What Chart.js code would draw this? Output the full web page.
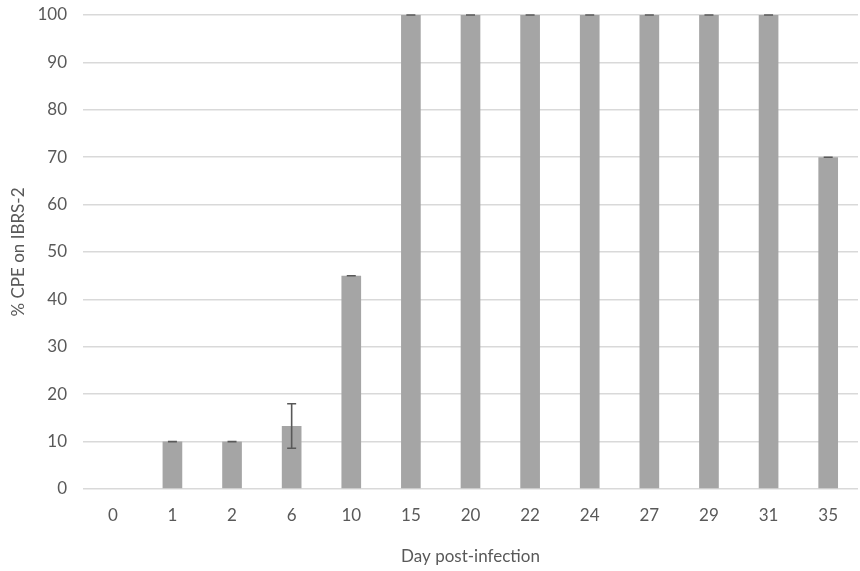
<!DOCTYPE html>
<html><head><meta charset="utf-8">
<script src="https://cdn.jsdelivr.net/npm/chart.js@4/dist/chart.umd.min.js"></script>
<style>html,body{margin:0;padding:0;background:#fff}#wrap{width:860px;height:571px}</style>
</head><body><div id="wrap"><canvas id="c" width="860" height="571"></canvas></div>
<script>
const categories = ["0","1","2","6","10","15","20","22","24","27","29","31","35"];
const cpeMean = [0,10,10,13.3,45,100,100,100,100,100,100,100,70];
const cpeErr = [null,0,0,4.7,0,0,0,0,0,0,0,0,0];
const yTicks = [0,10,20,30,40,50,60,70,80,90,100];

const FONT = 'Lato, "Open Sans", sans-serif';
const errorBars = {
  id:'errorBars',
  afterDatasetsDraw(chart){
    const ctx=chart.ctx, x=chart.scales.x, y=chart.scales.y;
    ctx.save();
    ctx.strokeStyle='#595959'; ctx.lineWidth=1.6;
    cpeErr.forEach((e,i)=>{
      if(e===null) return;
      const cx=x.getPixelForValue(i);
      const top=y.getPixelForValue(cpeMean[i]+e), bot=y.getPixelForValue(cpeMean[i]-e);
      ctx.beginPath();
      ctx.moveTo(cx,top);ctx.lineTo(cx,bot);
      ctx.moveTo(cx-4.5,top);ctx.lineTo(cx+4.5,top);
      ctx.moveTo(cx-4.5,bot);ctx.lineTo(cx+4.5,bot);
      ctx.stroke();
    });
    ctx.restore();
  }
};

new Chart(document.getElementById('c'),{
  type:'bar',
  data:{labels:categories,datasets:[{data:cpeMean,backgroundColor:'#a5a5a5',barPercentage:0.33,categoryPercentage:1}]},
  options:{
    responsive:false,animation:false,
    layout:{padding:{top:0,right:2,left:4,bottom:0}},
    plugins:{legend:{display:false},tooltip:{enabled:false}},
    scales:{
      x:{
        grid:{display:false},border:{display:false},
        ticks:{color:'#595959',font:{family:FONT,size:17},padding:8},
        title:{display:true,text:'Day post-infection',color:'#595959',font:{family:FONT,size:17},padding:{top:13}},
        afterFit(s){s.height=82;}
      },
      y:{
        min:0,max:100,
        afterBuildTicks(s){s.ticks=yTicks.map(v=>({value:v}));},
        grid:{color:'#d9d9d9',lineWidth:1.6,drawTicks:false},border:{display:false},
        ticks:{color:'#595959',font:{family:FONT,size:17},padding:16},
        title:{display:true,text:'% CPE on IBRS-2',color:'#595959',font:{family:FONT,size:17},padding:{bottom:6}},
        afterFit(s){s.width=79; s.paddingTop=15; s.paddingBottom=0;}
      }
    }
  },
  plugins:[errorBars]
});
</script></body></html>
